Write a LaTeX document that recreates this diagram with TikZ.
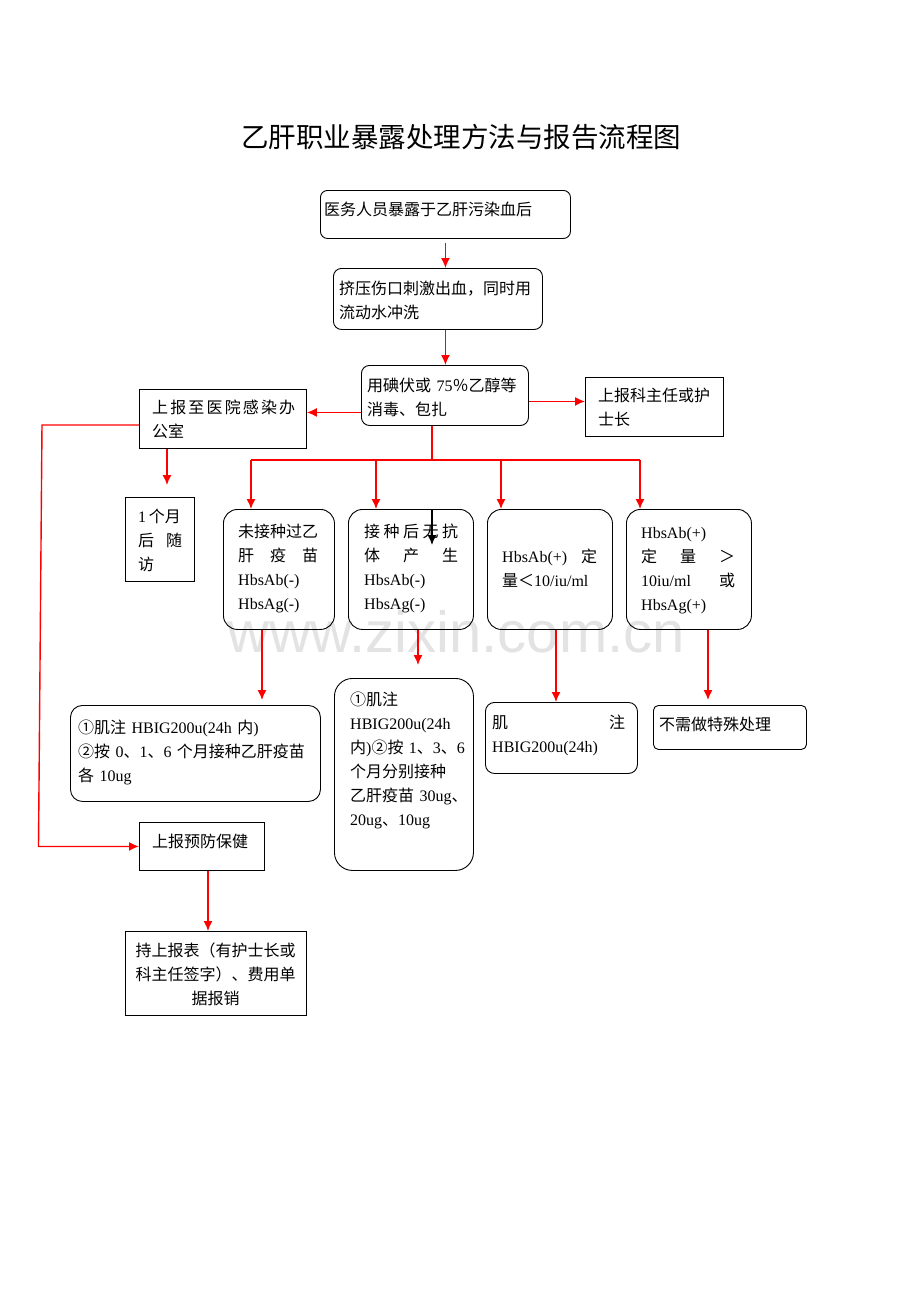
\documentclass[tikz,border=0pt]{standalone}
\usepackage{fontspec}
\setmainfont{Liberation Serif}
\newfontfamily\cjk{Noto Sans CJK SC}
\newfontfamily\wmfont{Liberation Sans}
\usetikzlibrary{arrows.meta,calc}
\newcommand\zh[1]{{\cjk #1}}
\newcommand\spr[1]{\makebox[\linewidth][s]{#1}}
\newcommand\bodyfs{\fontsize{16}{24}\selectfont}
\tikzset{
  rbox/.style={draw, line width=0.9pt, rounded corners=#1, inner sep=0pt, anchor=north west},
  rbox/.default=8pt,
  sbox/.style={draw, line width=0.9pt, inner sep=0pt, anchor=north west},
  txt/.style={anchor=base west, inner sep=0pt, align=left, font=\bodyfs},
  arr/.style={red, line width=1.4pt, -{Latex[length=10pt,width=9pt]}},
  rline/.style={red, line width=1.4pt},
  blk/.style={black, line width=1.4pt, -{Latex[length=10pt,width=9pt]}},
}
\begin{document}
\begin{tikzpicture}[x=1pt,y=-1pt]
\useasboundingbox[fill=white] (0,0) rectangle (920,1302);
% watermark
\node[anchor=base, inner sep=0pt, text=black!11, font=\wmfont\fontsize{58}{60}\selectfont] (wm) at (456,652) {www.zixin.com.cn};
% title
\node[anchor=base, inner sep=0pt, font=\cjk\fontsize{27.5}{30}\selectfont] (title) at (461,147) {乙肝职业暴露处理方法与报告流程图};
% boxes
\node[rbox=7pt, minimum width=250pt, minimum height=48pt] (b1) at (320,190) {};
\node[rbox=8pt, minimum width=209pt, minimum height=61pt] (b2) at (333,268) {};
\node[rbox=8pt, minimum width=167pt, minimum height=60pt] (b3) at (361,365) {};
\node[sbox, minimum width=167pt, minimum height=59pt] (b4) at (139,389) {};
\node[sbox, minimum width=138pt, minimum height=59pt] (b5) at (585,377) {};
\node[sbox, minimum width=69pt, minimum height=84pt] (b6) at (125,497) {};
\node[rbox=14pt, minimum width=111pt, minimum height=120pt] (b7) at (223,509) {};
\node[rbox=14pt, minimum width=125pt, minimum height=120pt] (b8) at (348,509) {};
\node[rbox=14pt, minimum width=125pt, minimum height=120pt] (b9) at (487,509) {};
\node[rbox=14pt, minimum width=125pt, minimum height=120pt] (b10) at (626,509) {};
\node[rbox=12pt, minimum width=250pt, minimum height=96pt] (b11) at (70,705) {};
\node[rbox=18pt, minimum width=139pt, minimum height=192pt] (b12) at (334,678) {};
\node[rbox=9pt, minimum width=152pt, minimum height=71pt] (b13) at (485,702) {};
\node[rbox=5pt, minimum width=153pt, minimum height=44pt] (b14) at (653,705) {};
\node[sbox, minimum width=125pt, minimum height=48pt] (b15) at (139,822) {};
\node[sbox, minimum width=181pt, minimum height=84pt] (b16) at (125,931) {};
% texts
\node[txt] (t1) at (324,215) {\zh{医务人员暴露于乙肝污染血后}};
\node[txt, text width=200pt] (t2) at (339,294) {\zh{挤压伤口刺激出血，同时用}\\\zh{流动水冲洗}};
\node[txt, text width=158pt] (t3) at (367,391) {\zh{用碘伏或} 75\zh{％乙醇等}\\\zh{消毒、包扎}};
\node[txt, text width=143pt] (t4) at (152,413) {\spr{\zh{上}\hfill\zh{报}\hfill\zh{至}\hfill\zh{医}\hfill\zh{院}\hfill\zh{感}\hfill\zh{染}\hfill\zh{办}}\\\zh{公室}};
\node[txt, text width=120pt] (t5) at (598,401) {\zh{上报科主任或护}\\\zh{士长}};
\node[txt, text width=44pt] (t6) at (138,522) {1\,\zh{个月}\\\spr{\zh{后}\hfill\zh{随}}\\\zh{访}};
\node[txt, text width=80pt] (t7) at (238,537) {\zh{未接种过乙}\\\spr{\zh{肝}\hfill\zh{疫}\hfill\zh{苗}}\\HbsAb(-)\\HbsAg(-)};
\node[txt, text width=94pt] (t8) at (364,537) {\spr{\zh{接}\hfill\zh{种}\hfill\zh{后}\hfill\zh{无}\hfill\zh{抗}}\\\spr{\zh{体}\hfill\zh{产}\hfill\zh{生}}\\HbsAb(-)\\HbsAg(-)};
\node[txt, text width=95pt] (t9) at (502,562) {\spr{HbsAb(+)\hfill\zh{定}}\\\zh{量＜}10/iu/ml};
\node[txt, text width=94pt] (t10) at (641,538) {HbsAb(+)\\\spr{\zh{定}\hfill\zh{量}\hfill\zh{＞}}\\\spr{10iu/ml\hfill\zh{或}}\\HbsAg(+)};
\node[txt, text width=240pt] (t11) at (78,733) {\zh{①肌注} HBIG200u(24h \zh{内})\\\zh{②按} 0\zh{、}1\zh{、}6 \zh{个月接种乙肝疫苗}\\\zh{各} 10ug};
\node[txt, text width=118pt] (t12) at (350,705) {\zh{①肌注}\\HBIG200u(24h\\\zh{内})\zh{②按} 1\zh{、}3\zh{、}6\\\zh{个月分别接种}\\\zh{乙肝疫苗} 30ug\zh{、}\\20ug\zh{、}10ug};
\node[txt, text width=133pt] (t13) at (492,728) {\spr{\zh{肌}\hfill\zh{注}}\\HBIG200u(24h)};
\node[txt] (t14) at (659,730) {\zh{不需做特殊处理}};
\node[txt] (t15) at (152,847) {\zh{上报预防保健}};
\node[txt, anchor=base, text width=170pt, align=center] (t16) at (215.5,956) {\zh{持上报表（有护士长或}\\\zh{科主任签字）、费用单}\\\zh{据报销}};
% helper coordinates
\coordinate (split) at (432,460);
\coordinate (d7) at (251,460);
\coordinate (d8) at (376,460);
\coordinate (d9) at (501,460);
\coordinate (d10) at (640,460);
\coordinate (c46) at (167,485);
\coordinate (lp) at (38.5,0);
\coordinate (x11) at (262,0);
\coordinate (x12) at (418,0);
\coordinate (x13) at (556,0);
\coordinate (x14) at (708,0);
\coordinate (x16) at (208,0);
% connectors
\draw[arr] ([yshift=-4pt]b1.south) -- (b1.south |- b2.north);
\draw[arr] (b1.south |- b2.south) -- (b1.south |- b3.north);
\draw[arr] ([yshift=-17pt]b3.west) -- ([yshift=-17pt]b3.west -| b4.east);
\draw[arr] ([yshift=-6pt]b3.east) -- ([yshift=-6pt]b3.east -| b5.west);
\draw[arr] (b4.south -| c46) -- (c46);
\draw[arr] ([yshift=-6pt]b4.west) -- ++(-97,0) -- (lp |- b15.west) -- (b15.west);
\draw[rline] (b3.south -| split) -- (split);
\draw[rline] (d7) -- (d10);
\draw[arr] (d7) -- (d7 |- b7.north);
\draw[arr] (d8) -- (d8 |- b8.north);
\draw[arr] (d9) -- (d9 |- b9.north);
\draw[arr] (d10) -- (d10 |- b10.north);
\draw[blk] (b8.north -| split) -- ++(0,36);
\draw[arr] (b7.south -| x11) -- ([yshift=5pt]b11.north -| x11);
\draw[arr] (b8.south -| x12) -- ([yshift=13pt]b12.north -| x12);
\draw[arr] (b9.south -| x13) -- (b13.north -| x13);
\draw[arr] (b10.south -| x14) -- ([yshift=5pt]b14.north -| x14);
\draw[arr] (b15.south -| x16) -- (b16.north -| x16);
\end{tikzpicture}
\end{document}
